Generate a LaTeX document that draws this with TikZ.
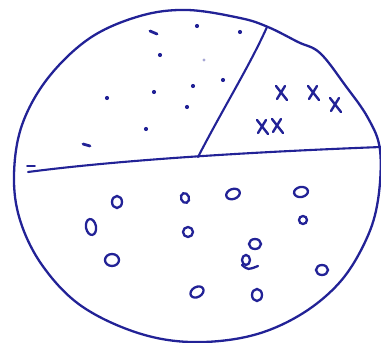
\documentclass[tikz,border=0pt]{standalone}
\begin{document}
\begin{tikzpicture}[x=1pt,y=-1pt,
  ink/.style={draw=inkblue,line width=2.3pt,line cap=round,line join=round},
  omark/.style={draw=inkblue,line width=2.3pt},
  xmark/.style={draw=inkblue,line width=2.4pt,line cap=round}]
\definecolor{inkblue}{RGB}{34,34,150}
\useasboundingbox (0,0) rectangle (381,343);
% outer circle
\draw[ink] plot[smooth cycle,tension=0.6] coordinates {
 (187,10) (240,18) (268,27) (298,42) (320,53) (345,85) (368,118) (380,150)
 (378,200) (366,240) (340,282) (300,315) (250,336) (190,342) (135,332)
 (80,305) (42,265) (20,220) (14,175) (22,125) (48,78) (90,38) (140,16)};
% horizontal divider
\coordinate (hl) at (28,172);
\coordinate (hr) at (381,147);
\draw[ink,line width=2.1pt] (hl) .. controls (120,160) and (250,152) .. (hr);
\draw[ink,line width=1.6pt] (27,166) -- (35,166);
% slanted divider
\coordinate (sb) at (198,157);
\coordinate (st) at (267,27);
\draw[ink,line width=2.1pt] (sb) .. controls (225,105) and (250,65) .. (st);
% dots
\foreach \p in {(197,26),(240,32),(160,55),(223,80),(193,86),(154,92),(187,107),(146,129),(107,98)}
  \fill[inkblue] \p circle (2.1pt);
\fill[inkblue!40] (204,60) circle (1.6pt);
\draw[ink,line width=2.8pt] (150,31) -- (157,34);
\draw[ink,line width=2.8pt] (83,144) -- (90,146);
% x marks
\foreach \cx/\cy in {281/93,313/93,335/105,262/127,277/126}{
  \draw[xmark] (\cx-5,\cy-7) -- (\cx+6,\cy+7);
  \draw[xmark] (\cx+4,\cy-7) .. controls (\cx,\cy) .. (\cx-4,\cy+6);
}
% o marks
\foreach \cx/\cy/\rx/\ry/\r in {117/202/5/6/0,185/198/4/5/20,233/194/7/5/20,301/192/7/5/10,
  91/227/5/8/10,188/232/5/5/0,303/220/4/4/0,255/244/6/5/0,112/260/7/6/0,
  322/270/6/5/0,197/292/7/5/30,257/295/5/6/0}
  \draw[omark,rotate around={\r:(\cx,\cy)}] (\cx,\cy) ellipse ({\rx pt} and {\ry pt});
\draw[omark] (246,260) ellipse (4pt and 5pt);
\draw[omark,line cap=round] (242,265) .. controls (248,270) .. (258,266);
\end{tikzpicture}
\end{document}
